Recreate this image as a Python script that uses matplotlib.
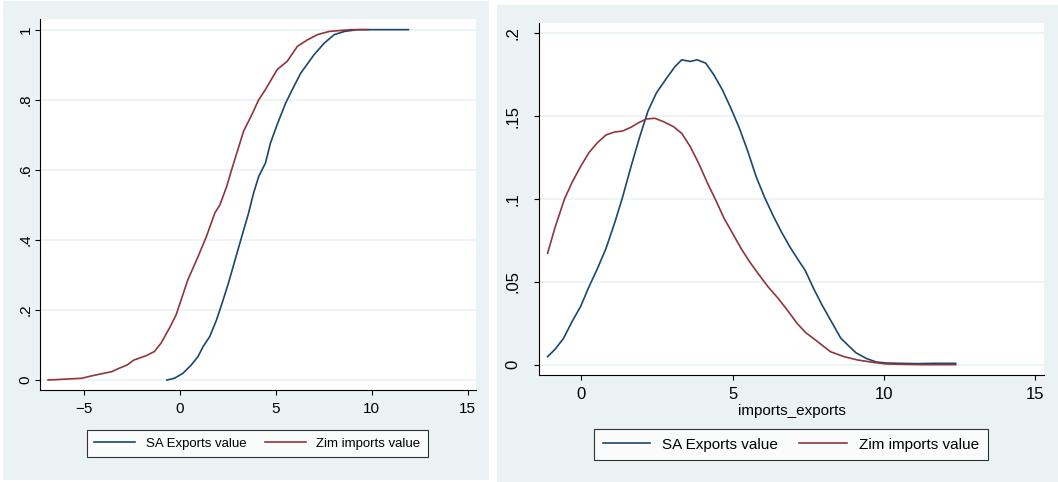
import matplotlib
matplotlib.use("Agg")
import matplotlib.pyplot as plt
from matplotlib import font_manager
from matplotlib.patches import Rectangle

# --- data ---
# left panel: cumulative distributions
sa_cdf_x = [-0.67, -0.28, 0.16, 0.60, 0.95, 1.21, 1.56, 1.91, 2.26, 2.53, 2.88, 3.23, 3.58,
            3.84, 4.11, 4.46, 4.72, 5.07, 5.51, 5.86, 6.30, 7.00, 7.53, 8.05, 8.58, 9.28, 11.91]
sa_cdf_y = [0.0, 0.005, 0.019, 0.043, 0.067, 0.095, 0.124, 0.171, 0.229, 0.276, 0.343, 0.41, 0.476,
            0.533, 0.581, 0.619, 0.676, 0.729, 0.79, 0.829, 0.876, 0.929, 0.962, 0.986, 0.995, 1.0, 1.0]
zim_cdf_x = [-6.86, -5.10, -4.58, -3.53, -3.18, -2.74, -2.39, -1.77, -1.33, -0.98, -0.54, -0.19,
             -0.02, 0.42, 0.95, 1.39, 1.82, 2.09, 2.44, 2.70, 3.05, 3.32, 3.75, 4.11, 4.46, 5.07,
             5.60, 6.12, 6.65, 7.18, 7.79, 8.93, 9.80]
zim_cdf_y = [0.0, 0.005, 0.012, 0.024, 0.033, 0.043, 0.057, 0.069, 0.081, 0.105, 0.148, 0.186,
             0.214, 0.286, 0.352, 0.41, 0.476, 0.5, 0.552, 0.6, 0.662, 0.71, 0.757, 0.8, 0.829, 0.886,
             0.91, 0.952, 0.971, 0.986, 0.995, 1.0, 1.0]

# right panel: kernel densities
sa_kd_x = [-1.12, -0.87, -0.59, -0.31, -0.03, 0.25, 0.53, 0.81, 1.09, 1.36, 1.64, 1.92, 2.20,
           2.48, 2.82, 3.10, 3.32, 3.60, 3.83, 4.11, 4.38, 4.66, 4.94, 5.22, 5.50, 5.78, 6.06,
           6.34, 6.62, 6.90, 7.18, 7.40, 7.68, 7.96, 8.30, 8.58, 8.86, 9.08, 9.42, 9.75, 10.09,
           10.54, 11.10, 11.65, 12.38]
sa_kd_y = [0.0048, 0.0093, 0.0159, 0.026, 0.035, 0.047, 0.058, 0.070, 0.085, 0.101, 0.1195,
           0.137, 0.153, 0.164, 0.173, 0.180, 0.184, 0.183, 0.184, 0.182, 0.175, 0.166, 0.155,
           0.143, 0.129, 0.1135, 0.101, 0.090, 0.080, 0.071, 0.063, 0.057, 0.046, 0.036, 0.025,
           0.016, 0.011, 0.0072, 0.0038, 0.0016, 0.001, 0.0008, 0.0006, 0.0008, 0.0008]
zim_kd_x = [-1.12, -0.87, -0.56, -0.31, -0.03, 0.25, 0.53, 0.81, 1.09, 1.36, 1.64, 1.92, 2.15,
            2.43, 2.71, 3.04, 3.32, 3.60, 3.88, 4.16, 4.44, 4.72, 5.00, 5.28, 5.56, 5.84, 6.17,
            6.51, 6.85, 7.13, 7.41, 7.74, 8.24, 8.69, 9.14, 9.64, 10.09, 10.54, 11.32, 12.38]
zim_kd_y = [0.0672, 0.083, 0.100, 0.110, 0.1195, 0.128, 0.134, 0.1386, 0.1404, 0.141, 0.1433,
            0.1463, 0.1483, 0.1487, 0.1467, 0.1437, 0.1396, 0.1316, 0.1215, 0.110, 0.0994, 0.0883,
            0.0793, 0.0702, 0.0622, 0.0551, 0.0471, 0.040, 0.032, 0.025, 0.0195, 0.0149, 0.0078,
            0.0048, 0.0028, 0.0014, 0.0004, 0.0002, 0.0, 0.0]

labels = ["SA Exports value", "Zim imports value"]
cdf_xticks = [-5, 0, 5, 10, 15]
cdf_yticks = [0, 0.2, 0.4, 0.6, 0.8, 1]
cdf_yticklabels = ["0", ".2", ".4", ".6", ".8", "1"]
kd_xticks = [0, 5, 10, 15]
kd_yticks = [0, 0.05, 0.1, 0.15, 0.2]
kd_yticklabels = ["0", ".05", ".1", ".15", ".2"]
kd_xlabel = "imports_exports"

NAVY = "#1A476F"
MAROON = "#90353B"
PANEL = "#EAF2F3"

# narrow font if we have it
installed = {f.name for f in font_manager.fontManager.ttflist}
fams = [f for f in ["Liberation Sans Narrow", "Liberation Sans"] if f in installed] + ["DejaVu Sans"]
plt.rcParams["font.family"] = fams

W, H = 1058, 482
fig = plt.figure(figsize=(W / 100, H / 100), dpi=100)


def px_rect(x0, y0, x1, y1):
    # pixel box (top-left origin) -> figure fraction
    return [x0 / W, 1 - y1 / H, (x1 - x0) / W, (y1 - y0) / H]


# grey-blue panel backgrounds, behind everything
bg = fig.add_axes([0, 0, 1, 1], zorder=-10)
bg.set_xlim(0, W)
bg.set_ylim(H, 0)
bg.axis("off")
for x0, y0, x1, y1 in [(3, 1, 489, 480), (497, 5, 1058, 482)]:
    bg.add_patch(Rectangle((x0, y0), x1 - x0, y1 - y0, facecolor=PANEL, edgecolor="none"))


def style_axes(ax, fs, xpad, ypad):
    ax.set_facecolor("white")
    for s in ["top", "right"]:
        ax.spines[s].set_visible(False)
    for s in ["left", "bottom"]:
        ax.spines[s].set_color("black")
        ax.spines[s].set_linewidth(0.8)
    ax.tick_params(axis="both", direction="out", length=3.5, width=0.8, colors="black", labelsize=fs)
    ax.tick_params(axis="x", pad=xpad)
    ax.tick_params(axis="y", pad=ypad, labelrotation=90)
    for t in ax.get_yticklabels():
        t.set_va("center")
    ax.grid(axis="y", color=PANEL, linewidth=1.2)
    ax.grid(axis="x", visible=False)
    ax.set_axisbelow(True)


def add_legend(ax, fs, cx, cy, hl, tp, cs):
    leg = ax.legend(labels, loc="center", bbox_to_anchor=(cx / W, 1 - cy / H),
                    bbox_transform=fig.transFigure, ncol=2, fontsize=fs, frameon=True,
                    fancybox=False, edgecolor="black", handlelength=hl, handletextpad=tp,
                    columnspacing=cs, borderpad=0.55)
    leg.get_frame().set_linewidth(0.8)
    leg.get_frame().set_facecolor("white")


# left: cdfs
ax1 = fig.add_axes(px_rect(39.6, 19, 475.7, 390))
ax1.plot(sa_cdf_x, sa_cdf_y, color=NAVY, lw=1.2)
ax1.plot(zim_cdf_x, zim_cdf_y, color=MAROON, lw=1.2)
ax1.set_xlim(-7.30, 15.41)
ax1.set_ylim(-0.0285, 1.0304)
ax1.set_xticks(cdf_xticks)
ax1.set_yticks(cdf_yticks)
ax1.set_yticklabels(cdf_yticklabels)
style_axes(ax1, 11, 5, 1.5)
add_legend(ax1, 9.5, 257.3, 443.7, 3.1, 0.8, 1.4)

# right: densities
ax2 = fig.add_axes(px_rect(538.8, 22.7, 1044.2, 375))
ax2.plot(sa_kd_x, sa_kd_y, color=NAVY, lw=1.2)
ax2.plot(zim_kd_x, zim_kd_y, color=MAROON, lw=1.2)
ax2.set_xlim(-1.41, 15.31)
ax2.set_ylim(-0.00625, 0.2064)
ax2.set_xticks(kd_xticks)
ax2.set_yticks(kd_yticks)
ax2.set_yticklabels(kd_yticklabels)
ax2.set_xlabel(kd_xlabel, fontsize=11, labelpad=1.5)
style_axes(ax2, 12, 5, 10)
add_legend(ax2, 11, 790.9, 444.5, 3.1, 0.8, 1.4)

fig.savefig("out.png", dpi=100, facecolor="white")
